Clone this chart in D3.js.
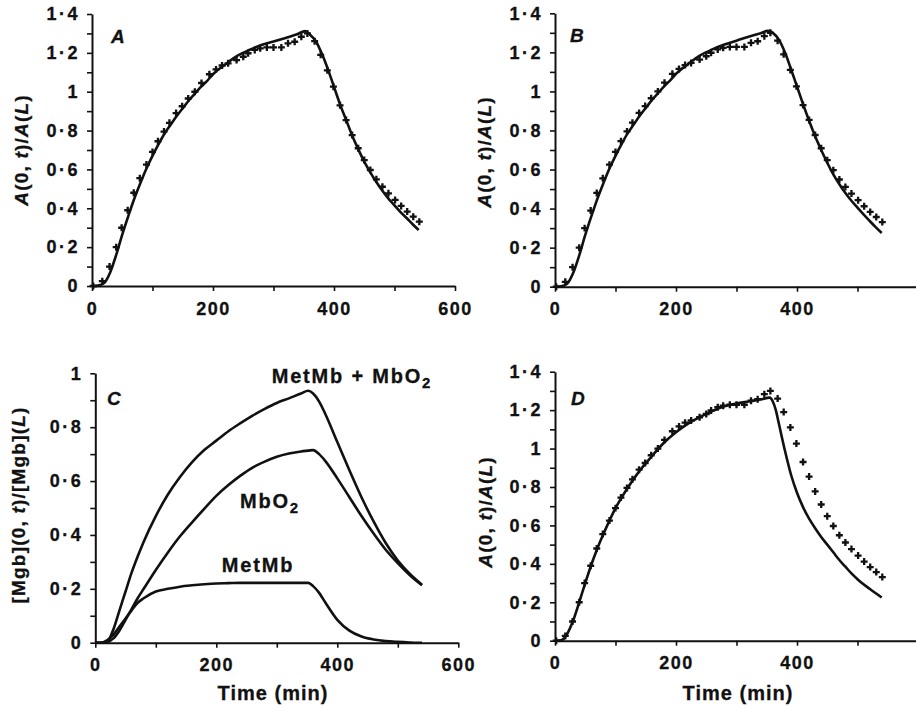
<!DOCTYPE html>
<html>
<head>
  <meta charset="utf-8">
  <script src="https://cdn.jsdelivr.net/npm/d3@7"></script>
  <style>
    body { margin: 0; background: #fff; }
    svg text { font-family: "Liberation Sans", Arial, sans-serif; font-weight: bold; fill: #111; stroke: #111; stroke-width: 0.3px; }
    .axis path, .axis line { stroke: #111; }
    .axis path { stroke-width: 2px; }
    .axis line { stroke-width: 1.6px; }
    .axis text { font-size: 18px; letter-spacing: 1.5px; }
    .yax text { letter-spacing: 2.5px; }
  </style>
</head>
<body>
<script>
// experimental absorbance ratio (crosses), shared by A, B, D
var expTime = [2,17,29,40,49,59,69,79,90,100,109,119,128,139,149,159,170,181,194,205,
  215,225,239,250,258,269,278,289,300,313,324,335,346,356,368,378,389,399,410,420,
  430,440,450,460,470,480,490,501,511,521,531,541];
var expRatio = [0,0.025,0.10,0.20,0.30,0.39,0.48,0.555,0.625,0.69,0.745,0.795,0.84,0.89,0.925,0.965,1.0,1.045,1.09,1.115,
  1.135,1.146,1.163,1.18,1.198,1.215,1.223,1.228,1.228,1.228,1.249,1.257,1.283,1.30,1.26,1.19,1.11,1.026,0.93,0.854,
  0.777,0.709,0.648,0.597,0.549,0.511,0.477,0.443,0.412,0.383,0.357,0.331];

// model curves for A and B
var fitTime = [0,10,20,30,40,50,60,70,80,90,100,110,120,130,140,150,160,170,180,190,200,220,240,260,280,300,320,340,352,
  360,370,380,390,400,410,420,430,440,450,460,470,480,490,500,510,520,530,540];
var fitA = [0,0.002,0.015,0.07,0.16,0.265,0.36,0.45,0.53,0.605,0.67,0.73,0.785,0.83,0.875,0.915,0.955,0.99,1.025,1.055,1.09,1.14,1.185,1.215,1.24,1.258,1.277,1.297,1.312,
  1.295,1.26,1.195,1.115,1.025,0.935,0.855,0.775,0.705,0.64,0.585,0.535,0.49,0.45,0.415,0.38,0.35,0.318,0.288];
var fitB = [0,0.002,0.015,0.07,0.16,0.265,0.36,0.45,0.53,0.605,0.67,0.73,0.785,0.83,0.875,0.915,0.955,0.99,1.025,1.055,1.09,1.14,1.185,1.215,1.24,1.26,1.28,1.298,1.31,
  1.3,1.265,1.2,1.115,1.025,0.935,0.85,0.77,0.7,0.635,0.575,0.525,0.48,0.44,0.405,0.37,0.337,0.305,0.275];

// model curve for D
var fitTimeD = [0,10,20,30,40,50,60,70,80,90,100,110,120,140,160,180,200,220,240,260,280,300,320,340,355,
  360,365,370,380,390,400,410,420,430,440,450,460,470,480,490,500,520,540];
var fitD = [0,0.002,0.035,0.105,0.2,0.3,0.395,0.48,0.555,0.625,0.69,0.745,0.795,0.885,0.96,1.03,1.085,1.13,1.165,1.195,1.22,1.235,1.245,1.255,1.265,
  1.245,1.2,1.13,0.99,0.865,0.77,0.695,0.635,0.585,0.54,0.5,0.46,0.42,0.385,0.35,0.32,0.27,0.225];

// panel C: myoglobin species
var cTime = [0,10,20,30,40,50,60,70,80,100,120,140,160,180,200,220,240,260,280,300,320,340,352,
  360,370,380,400,420,440,460,480,500,520,540];
var cSum = [0,0,0.005,0.05,0.12,0.19,0.26,0.32,0.375,0.47,0.55,0.615,0.67,0.715,0.75,0.785,0.815,0.843,0.868,0.89,0.907,0.925,0.935,
  0.925,0.895,0.85,0.745,0.64,0.54,0.45,0.37,0.305,0.255,0.215];
var cMbO2 = [0,0,0.003,0.016,0.045,0.085,0.125,0.165,0.2,0.27,0.335,0.395,0.447,0.497,0.545,0.585,0.62,0.65,0.672,0.69,0.702,0.71,0.713,
  0.715,0.7,0.675,0.61,0.54,0.47,0.405,0.345,0.295,0.25,0.213];
var cMetMb = [0,0,0.01,0.03,0.06,0.09,0.12,0.148,0.165,0.19,0.2,0.208,0.213,0.217,0.22,0.221,0.222,0.222,0.222,0.222,0.222,0.222,0.222,
  0.21,0.185,0.15,0.085,0.045,0.023,0.012,0.006,0.003,0.001,0];

var svg = d3.select("body").append("svg").attr("width", 916).attr("height", 708);

function fmt(v) { return String(+v.toFixed(1)).replace(".", "\u00b7"); }

function zip(t, v) { return t.map(function(d, i) { return [d, v[i]]; }); }

function panel(p) {
  var x = d3.scaleLinear().domain([0, 600]).range([p.x0, p.x0 + 0.605 * 600]);
  var y = d3.scaleLinear().domain([0, p.ymax]).range([p.y0, p.y1]);
  var g = svg.append("g");

  var yt = d3.range(0, Math.round(p.ymax * 10) + 1).map(function(k) { return k / 10; });
  g.append("g").attr("class", "axis yax")
    .attr("transform", "translate(" + p.x0 + ",0)")
    .call(d3.axisLeft(y).tickValues(yt).tickSize(5).tickSizeOuter(0).tickPadding(7)
      .tickFormat(function(d, i) { return i % 2 === 0 ? fmt(d) : ""; }));

  g.append("g").attr("class", "axis")
    .attr("transform", "translate(0," + p.y0 + ")")
    .call(d3.axisBottom(x).tickValues([0, 100, 200, 300, 400, 500, 600]).tickSize(5).tickSizeOuter(0).tickPadding(11)
      .tickFormat(function(d) { return d % 200 === 0 && d <= p.xlabMax ? d : ""; }));

  var line = d3.line().x(function(d) { return x(d[0]); }).y(function(d) { return y(d[1]); })
    .curve(d3.curveMonotoneX);

  p.lines.forEach(function(l) {
    g.append("path").datum(l).attr("d", line)
      .attr("fill", "none").attr("stroke", "#111").attr("stroke-width", 2.6)
      .attr("stroke-linejoin", "round");
  });

  if (p.points) {
    g.selectAll(".pt").data(p.points).enter().append("path")
      .attr("d", d3.symbol().type(d3.symbolCross).size(27))
      .attr("transform", function(d) { return "translate(" + x(d[0]) + "," + y(d[1]) + ")"; })
      .attr("fill", "#111");
  }

  g.append("text").attr("x", p.letter[0]).attr("y", p.letter[1])
    .style("font-size", "19px").style("font-style", "italic").text(p.name);

  var yl = g.append("text")
    .attr("transform", "translate(" + p.ylab[0] + "," + p.ylab[1] + ") rotate(-90)")
    .attr("text-anchor", "middle").style("font-size", "19px").style("letter-spacing", "1.2px");
  p.ylabParts.forEach(function(s) {
    yl.append("tspan").style("font-style", s[1] ? "italic" : "normal").text(s[0]);
  });

  if (p.xlab) {
    g.append("text").attr("x", p.xlab[0]).attr("y", p.xlab[1])
      .attr("text-anchor", "middle").style("font-size", "20px").style("letter-spacing", "1px")
      .text("Time (min)");
  }
  return { x: x, y: y, g: g };
}

var ratioLabel = [["A", 1], ["(0, ", 0], ["t", 1], [")/", 0], ["A", 1], ["(", 0], ["L", 1], [")", 0]];
var mgbLabel = [["[Mgb](0, ", 0], ["t", 1], [")/[Mgb](", 0], ["L", 1], [")", 0]];
var pts = zip(expTime, expRatio);

panel({ name: "A", x0: 92, y0: 286, y1: 14, ymax: 1.4, xlabMax: 600,
  lines: [zip(fitTime, fitA)], points: pts, letter: [111, 43],
  ylab: [28, 150], ylabParts: ratioLabel });

panel({ name: "B", x0: 555, y0: 286.7, y1: 13.3, ymax: 1.4, xlabMax: 400,
  lines: [zip(fitTime, fitB)], points: pts, letter: [570, 42],
  ylab: [491, 152], ylabParts: ratioLabel });

var pc = panel({ name: "C", x0: 95.3, y0: 642.7, y1: 373.3, ymax: 1, xlabMax: 600,
  lines: [zip(cTime, cSum), zip(cTime, cMbO2), zip(cTime, cMetMb)], letter: [107, 405],
  ylab: [25, 505], ylabParts: mgbLabel, xlab: [273, 700] });

panel({ name: "D", x0: 555, y0: 640.7, y1: 371.7, ymax: 1.4, xlabMax: 400,
  lines: [zip(fitTimeD, fitD)], points: pts, letter: [571, 405],
  ylab: [492, 512], ylabParts: ratioLabel, xlab: [738, 700] });

// species labels in panel C
var cLabels = [
  { x: 352, y: 383, parts: ["MetMb + MbO", "2"] },
  { x: 270, y: 508, parts: ["MbO", "2"] },
  { x: 258, y: 572, parts: ["MetMb"] }
];
cLabels.forEach(function(c) {
  var t = pc.g.append("text").attr("x", c.x).attr("y", c.y).attr("text-anchor", "middle")
    .style("font-size", "20px").style("letter-spacing", "1.8px");
  t.append("tspan").text(c.parts[0]);
  if (c.parts[1]) t.append("tspan").attr("dy", 5).style("font-size", "15px").text(c.parts[1]);
});
</script>
</body>
</html>
